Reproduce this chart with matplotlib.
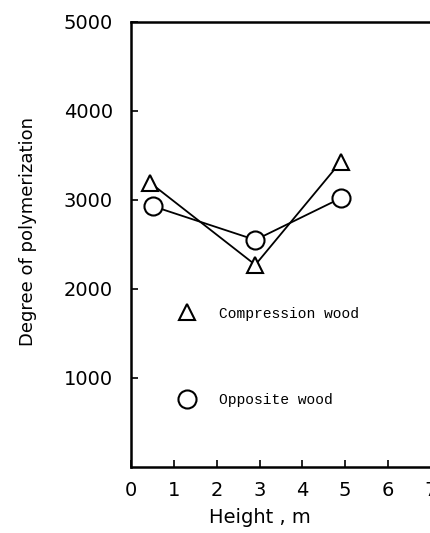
import matplotlib
matplotlib.use("Agg")
import matplotlib.pyplot as plt
from matplotlib.lines import Line2D

height_m = [0.45, 2.9, 4.9]
compression = [3190, 2270, 3430]
height_opp = [0.5, 2.9, 4.9]
opposite = [2930, 2550, 3020]

xticks = [0, 1, 2, 3, 4, 5, 6, 7]
yticks = [1000, 2000, 3000, 4000, 5000]

fig = plt.figure(figsize=(4.30, 5.33), dpi=100)
ax = fig.add_axes([0.305, 0.124, 0.697, 0.835])

ax.plot(height_m, compression, color="black", lw=1.3, marker="^", ms=12,
        mfc="white", mec="black", mew=1.5, zorder=3)
ax.plot(height_opp, opposite, color="black", lw=1.3, marker="o", ms=13,
        mfc="white", mec="black", mew=1.5, zorder=3)

ax.set_xlim(0, 7)
ax.set_ylim(0, 5000)
ax.set_xticks(xticks)
ax.set_yticks(yticks)
ax.set_yticklabels([str(v) for v in yticks])

for s in ax.spines.values():
    s.set_linewidth(1.8)
ax.tick_params(direction="in", length=5, width=1.2, labelsize=14)
ax.tick_params(axis="x", pad=10)
ax.tick_params(axis="y", pad=13)

ax.set_xlabel("Height , m", fontsize=14)
ax.set_ylabel("Degree of polymerization", fontsize=13)
ax.xaxis.set_label_coords(0.43, -0.092)
ax.yaxis.set_label_coords(-0.315, 0.53)

handles = [
    Line2D([], [], ls="none", marker="^", ms=12, mfc="white", mec="black", mew=1.5),
    Line2D([], [], ls="none", marker="o", ms=13, mfc="white", mec="black", mew=1.5),
]
ax.legend(handles, ["Compression wood", "Opposite wood"], loc="center left",
          bbox_to_anchor=(0.163, 0.247), frameon=False, borderpad=0,
          borderaxespad=0, handlelength=1.0, handletextpad=1.7,
          labelspacing=5.0, prop={"family": "Liberation Mono", "size": 10.5})

fig.savefig("out.png", dpi=100)
